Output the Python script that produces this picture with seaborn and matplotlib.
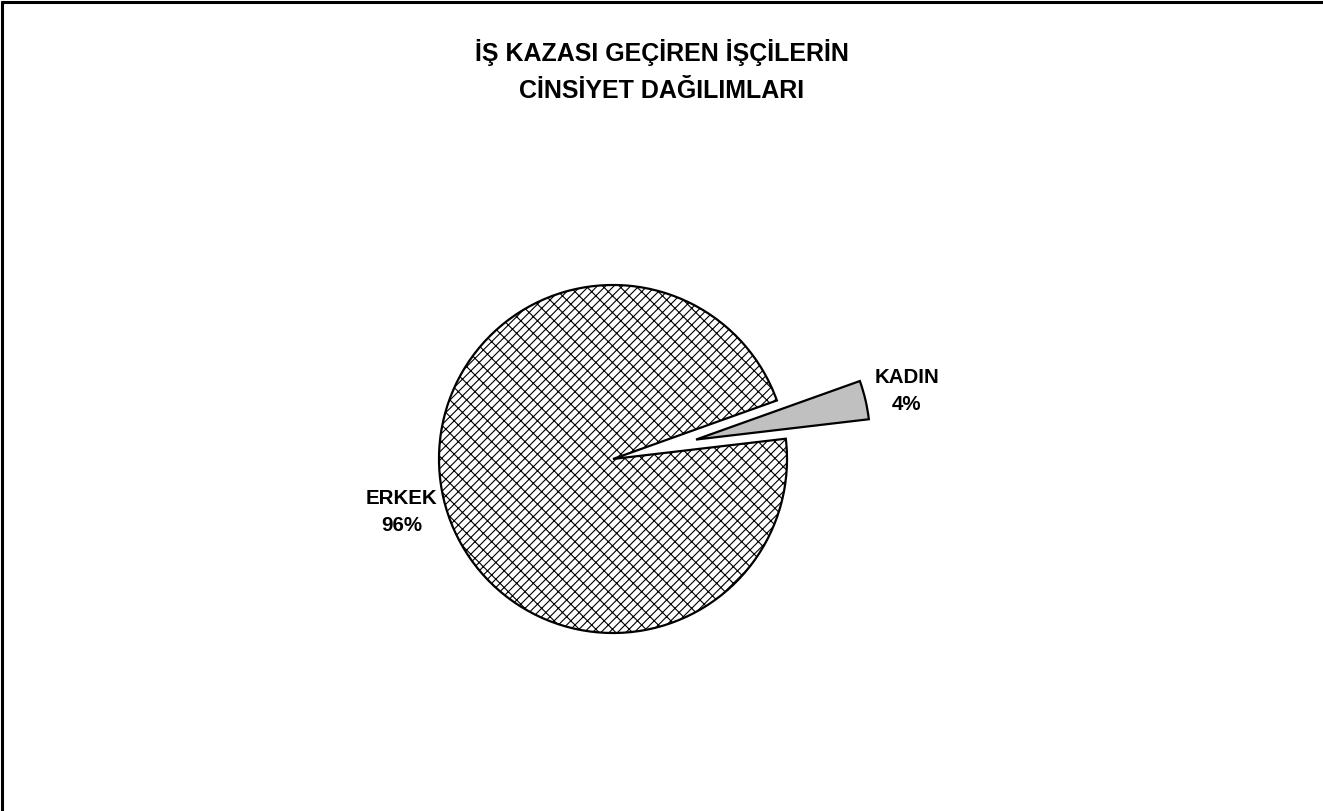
import numpy as np
import pandas as pd
import matplotlib
matplotlib.use("Agg")
import matplotlib.pyplot as plt
import seaborn as sns
from matplotlib.lines import Line2D

# ---- data ----
categories = ["KADIN", "ERKEK"]
values = [3.6, 96.4]
pct_labels = ["4%", "96%"]
title_lines = ["İŞ KAZASI GEÇİREN İŞÇİLERİN", "CİNSİYET DAĞILIMLARI"]

df = pd.DataFrame({"cinsiyet": categories, "deger": values, "yuzde": pct_labels})

sns.set_theme(style="white")
plt.rcParams["font.family"] = ["Liberation Sans", "DejaVu Sans"]
plt.rcParams["hatch.linewidth"] = 0.8
plt.rcParams["hatch.color"] = "black"

W, H, DPI = 1323, 812, 100
fig = plt.figure(figsize=(W / DPI, H / DPI), dpi=DPI, facecolor="white")
ax = fig.add_axes([0, 0, 1, 1])

R_PX = 174.0
cx, cy = 613.0, 460.0

wedges, _ = ax.pie(
    df["deger"],
    startangle=6.7,
    counterclock=True,
    explode=[0.49, 0.0],
    colors=["#C0C0C0", "white"],
    wedgeprops=dict(edgecolor="black", linewidth=1.6),
    radius=1.0,
)
wedges[1].set_hatch("////\\\\")

ax.set_aspect("auto")
ax.set_xlim(-cx / R_PX, (W - cx) / R_PX)
ax.set_ylim(-(H - cy) / R_PX, cy / R_PX)
ax.axis("off")

# labels placed along each wedge bisector
label_dist = [1.245, 1.25]
for w, name, pct, d in zip(wedges, df["cinsiyet"], df["yuzde"], label_dist):
    mid = np.deg2rad((w.theta1 + w.theta2) / 2.0 + (0.6 if name == "ERKEK" else 0.0))
    x0, y0 = w.center
    ax.text(x0 + d * np.cos(mid), y0 + d * np.sin(mid), f"{name}\n{pct}",
            ha="center", va="center", fontsize=14.8, fontweight="bold",
            linespacing=1.55, color="black")

fig.text(0.5, 1 - 71 / H, "\n".join(title_lines), ha="center", va="center",
         fontsize=18, fontweight="bold", linespacing=1.65, color="black")

# chart-area frame (left and top edges visible)
fig.add_artist(Line2D([2 / W, 2 / W], [0, 1 - 3 / H], transform=fig.transFigure,
                      color="black", linewidth=2.2))
fig.add_artist(Line2D([2 / W, 1], [1 - 3 / H, 1 - 3 / H], transform=fig.transFigure,
                      color="black", linewidth=2.2))

fig.savefig("out.png", dpi=DPI, facecolor="white")
